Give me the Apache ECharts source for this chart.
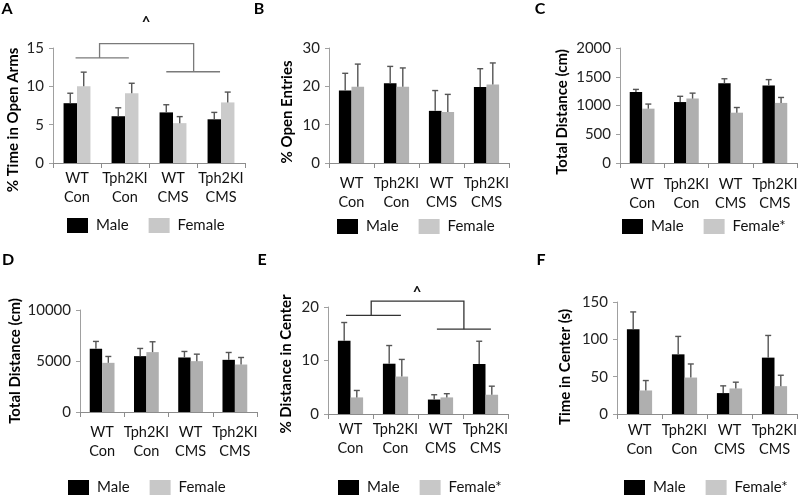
<!DOCTYPE html>
<html><head><meta charset="utf-8">
<script src="https://cdn.jsdelivr.net/npm/echarts@6/dist/echarts.min.js"></script>
<style>html,body{margin:0;padding:0;background:#fff}#c{width:800px;height:496px}</style>
</head><body><div id="c"></div>
<script>
// ---------- data ----------
const categories = ['WT\nCon', 'Tph2KI\nCon', 'WT\nCMS', 'Tph2KI\nCMS'];

// A: % Time in Open Arms
const aMale = [7.8, 6.1, 6.6, 5.7];
const aMaleErr = [1.3, 1.1, 1.0, 0.9];
const aFemale = [10.0, 9.1, 5.2, 7.9];
const aFemaleErr = [1.85, 1.3, 0.85, 1.35];
const aTicks = [0, 5, 10, 15];

// B: % Open Entries
const bMale = [18.9, 20.8, 13.6, 19.8];
const bMaleErr = [4.5, 4.4, 5.3, 4.8];
const bFemale = [19.9, 19.9, 13.3, 20.5];
const bFemaleErr = [5.9, 4.9, 4.6, 5.6];
const bTicks = [0, 10, 20, 30];

// C: Total Distance (cm)
const cMale = [1235, 1060, 1385, 1350];
const cMaleErr = [45, 100, 80, 100];
const cFemale = [945, 1120, 875, 1045];
const cFemaleErr = [80, 95, 90, 95];
const cTicks = [0, 500, 1000, 1500, 2000];

// D: Total Distance (cm)
const dMale = [6200, 5475, 5345, 5115];
const dMaleErr = [720, 755, 590, 720];
const dFemale = [4820, 5870, 4985, 4655];
const dFemaleErr = [625, 1015, 685, 690];
const dTicks = [0, 5000, 10000];

// E: % Distance in Center
const eMale = [13.7, 9.4, 2.7, 9.35];
const eMaleErr = [3.4, 3.4, 0.9, 4.25];
const eFemale = [3.1, 7.0, 3.1, 3.6];
const eFemaleErr = [1.3, 3.2, 0.7, 1.6];
const eTicks = [0, 10, 20];

// F: Time in Center (s)
const fMale = [113.6, 79.9, 28, 75.5];
const fMaleErr = [23.1, 24, 9.7, 29.7];
const fFemale = [31.5, 48.8, 34.2, 37.3];
const fFemaleErr = [13.3, 18.2, 8.4, 14.6];
const fTicks = [0, 50, 100, 150];

// significance brackets (category-index / value space)
const aBracket = [
  [[-0.03, 13.7], [1.08, 13.7]],
  [[0.47, 13.7], [0.47, 15.57], [2.43, 15.57], [2.43, 11.9]],
  [[1.86, 11.9], [2.98, 11.9]]
];
const aBracketMark = [1.44, 18.4, '^'];
const eBracket = [
  [[-0.1, 18.45], [1.12, 18.45]],
  [[0.46, 18.45], [0.46, 21.1], [2.52, 21.1], [2.52, 15.85]],
  [[1.92, 15.85], [3.12, 15.85]]
];
const eBracketMark = [1.48, 22.8, '^'];

// ---------- layout / style ----------
const FONT = 'Lato, "Open Sans", sans-serif';
const GAP = 0.44; // bar category gap
const panels = [
  {letter:'A', lx:7, ly:9, title:'% Time in Open Arms', tx:13, ty:120,
   grid:{left:53, top:48, width:192, height:115}, ticks:aTicks,
   male:aMale, maleErr:aMaleErr, female:aFemale, femaleErr:aFemaleErr,
   femaleColor:'#cbcbcb', fname:'Female', labelMargin:6, legend:{left:67, top:218},
   bracket:aBracket, mark:aBracketMark, bracketColor:'#7a7a7a'},
  {letter:'B', lx:259, ly:9, title:'% Open Entries', tx:287, ty:112,
   grid:{left:329, top:48, width:180, height:115}, ticks:bTicks,
   male:bMale, maleErr:bMaleErr, female:bFemale, femaleErr:bFemaleErr,
   femaleColor:'#b2b2b2', fname:'Female', labelMargin:11, legend:{left:337, top:219}},
  {letter:'C', lx:540, ly:9, title:'Total Distance (cm)', tx:562, ty:112,
   grid:{left:620, top:48, width:177, height:115}, ticks:cTicks,
   male:cMale, maleErr:cMaleErr, female:cFemale, femaleErr:cFemaleErr,
   femaleColor:'#afafaf', fname:'Female*', labelMargin:12, legend:{left:622, top:219}},
  {letter:'D', lx:8, ly:260, title:'Total Distance (cm)', tx:15, ty:361,
   grid:{left:80, top:310, width:177, height:102}, ticks:dTicks,
   male:dMale, maleErr:dMaleErr, female:dFemale, femaleErr:dFemaleErr,
   femaleColor:'#afafaf', fname:'Female', labelMargin:11, legend:{left:68, top:480}},
  {letter:'E', lx:262, ly:260, title:'% Distance in Center', tx:286, ty:364,
   grid:{left:328, top:307, width:180, height:107}, ticks:eTicks,
   male:eMale, maleErr:eMaleErr, female:eFemale, femaleErr:eFemaleErr,
   femaleColor:'#afafaf', fname:'Female*', labelMargin:6, legend:{left:338, top:480},
   bracket:eBracket, mark:eBracketMark, bracketColor:'#333333'},
  {letter:'F', lx:541, ly:260, title:'Time in Center (s)', tx:565, ty:367,
   grid:{left:617, top:302, width:180, height:112}, ticks:fTicks,
   male:fMale, maleErr:fMaleErr, female:fFemale, femaleErr:fFemaleErr,
   femaleColor:'#afafaf', fname:'Female*', labelMargin:7, legend:{left:624, top:480}}
];

function errRender(sign) {
  return function (params, api) {
    const i = api.value(0), m = api.value(1), e = api.value(2);
    const band = api.size([1, 0])[0];
    const bw = band * (1 - GAP) / 2;
    const p0 = api.coord([i, m]);
    const p1 = api.coord([i, m + e]);
    const x = p0[0] + sign * bw / 2;
    return {type:'group', children:[
      {type:'line', shape:{x1:x, y1:p0[1], x2:x, y2:p1[1]}, style:{stroke:'#555', lineWidth:1.4}},
      {type:'line', shape:{x1:x - 3, y1:p1[1], x2:x + 3, y2:p1[1]}, style:{stroke:'#555', lineWidth:1.4}}
    ]};
  };
}
function bracketRender(lines, mark, color) {
  return function (params, api) {
    const band = api.size([1, 0])[0];
    const x0 = api.coord([0, 0])[0];
    const toPx = p => [x0 + p[0] * band, api.coord([0, p[1]])[1]];
    const children = lines.map(pl => ({type:'polyline',
      shape:{points: pl.map(toPx)},
      style:{stroke:color, lineWidth:1.3, fill:null}}));
    const mp = toPx(mark);
    children.push({type:'text', x:mp[0], y:mp[1],
      style:{text:mark[2], font:'bold 15px ' + FONT, fill:'#111', align:'center', verticalAlign:'middle'}});
    return {type:'group', children};
  };
}

const option = {animation:false, backgroundColor:'#fff',
  grid:[], xAxis:[], yAxis:[], series:[], legend:[], graphic:[]};
panels.forEach((p, k) => {
  option.grid.push(Object.assign({outerBoundsMode:'none', containLabel:false}, p.grid));
  option.xAxis.push({type:'category', gridIndex:k, data:categories,
    axisLine:{lineStyle:{color:'#8c8c8c', width:1}},
    axisTick:{show:true, length:5, lineStyle:{color:'#8c8c8c'}},
    axisLabel:{interval:0, margin:p.labelMargin, fontFamily:FONT, fontSize:14.5, lineHeight:19, color:'#111'},
    splitLine:{show:false}});
  option.yAxis.push({type:'value', gridIndex:k, min:p.ticks[0], max:p.ticks[p.ticks.length - 1],
    interval:p.ticks[1] - p.ticks[0],
    axisLine:{show:true, lineStyle:{color:'#a0a0a0', width:1}},
    axisTick:{show:true, length:4, lineStyle:{color:'#a0a0a0'}},
    axisLabel:{margin:9, fontFamily:FONT, fontSize:15, color:'#222', formatter:v => String(v)},
    splitLine:{show:false}});
  option.series.push(
    {type:'bar', name:'Male', xAxisIndex:k, yAxisIndex:k, data:p.male,
     barGap:'0%', barCategoryGap:(GAP * 100) + '%', itemStyle:{color:'#000'}},
    {type:'bar', name:p.fname, xAxisIndex:k, yAxisIndex:k, data:p.female,
     barGap:'0%', barCategoryGap:(GAP * 100) + '%', itemStyle:{color:p.femaleColor}},
    {type:'custom', xAxisIndex:k, yAxisIndex:k, renderItem:errRender(-1), z:3,
     data:p.male.map((v, i) => [i, v, p.maleErr[i]])},
    {type:'custom', xAxisIndex:k, yAxisIndex:k, renderItem:errRender(1), z:3,
     data:p.female.map((v, i) => [i, v, p.femaleErr[i]])}
  );
  if (p.bracket) {
    option.series.push({type:'custom', xAxisIndex:k, yAxisIndex:k, clip:false,
      renderItem:bracketRender(p.bracket, p.mark, p.bracketColor), data:[[0, 0]]});
  }
  option.legend.push({left:p.legend.left, top:p.legend.top, padding:0, itemGap:20,
    itemWidth:21, itemHeight:15, icon:'rect', orient:'horizontal',
    textStyle:{fontFamily:FONT, fontSize:15, color:'#111', padding:[0, 0, 0, 3]},
    data:[{name:'Male', itemStyle:{color:'#000'}}, {name:p.fname, itemStyle:{color:'#c8c8c8'}}]});
  option.graphic.push(
    {type:'text', x:p.lx, y:p.ly, style:{text:p.letter, font:'bold 16px ' + FONT, fill:'#000',
      align:'center', verticalAlign:'middle'}},
    {type:'text', x:p.tx, y:p.ty, rotation:Math.PI / 2, style:{text:p.title, font:'bold 15px ' + FONT,
      fill:'#000', align:'center', verticalAlign:'middle'}}
  );
});

const chart = echarts.init(document.getElementById('c'), null, {renderer:'canvas'});
chart.setOption(option);
</script></body></html>
